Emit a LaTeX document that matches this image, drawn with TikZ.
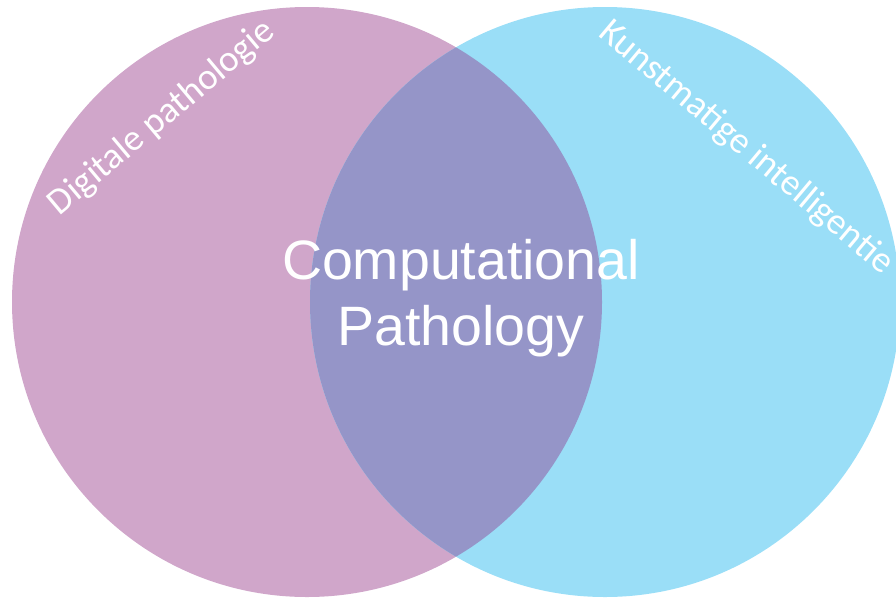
\documentclass[tikz,border=0pt]{standalone}
\usepackage{fontspec}
\setmainfont{Carlito}
\newfontfamily\arialfont{Liberation Sans}
\usepackage{tikz}

\definecolor{digipink}{RGB}{208,166,202}
\definecolor{aiblue}{RGB}{154,222,247}
\definecolor{overlap}{RGB}{149,149,200}

\begin{document}
\begin{tikzpicture}[x=1pt,y=-1pt,
    setlabel/.style={text=white,font=\fontsize{37}{42}\selectfont,inner sep=0pt},
    corelabel/.style={text=white,font=\arialfont\fontsize{55.5}{66}\selectfont,align=center,inner sep=0pt}]
  \useasboundingbox (0,0) rectangle (896,600);

  % the two sets
  \fill[digipink] (307,302) circle (295);
  \fill[aiblue] (605,302) circle (295);
  \begin{scope}
    \clip (307,302) circle (295);
    \fill[overlap] (605,302) circle (295);
  \end{scope}

  \node[setlabel,rotate=40] (digi) at (162,118) {Digitale pathologie};
  \node[setlabel,rotate=-40] (ki) at (746,148) {Kunstmatige intelligentie};

  \node[corelabel] (cp) at (461,298) {Computational\\Pathology};
\end{tikzpicture}
\end{document}
